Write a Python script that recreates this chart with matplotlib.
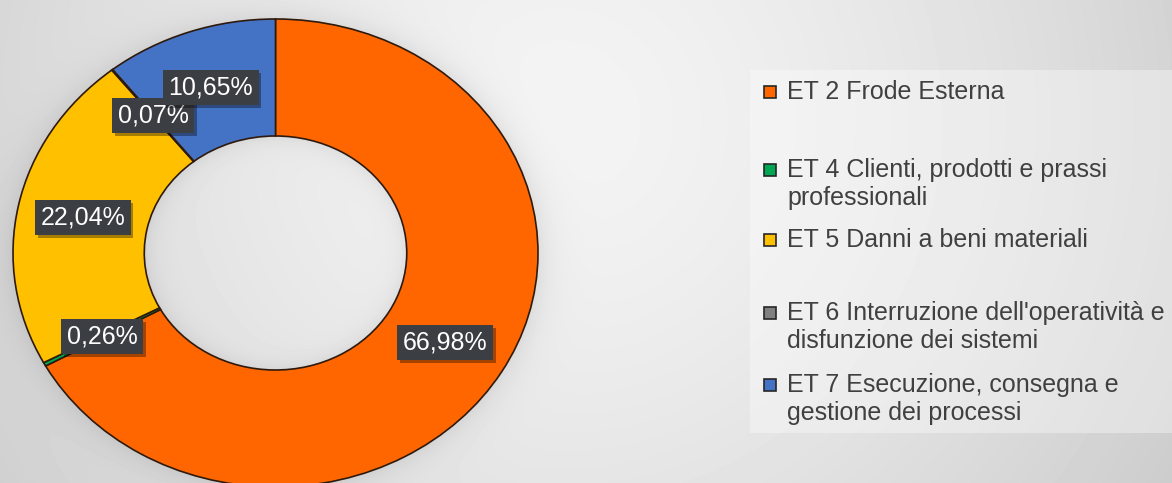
import numpy as np
import matplotlib.pyplot as plt
import matplotlib.patheffects as pe
from matplotlib.patches import Rectangle

plt.rcParams['font.family'] = ['Liberation Sans', 'DejaVu Sans']

# Loss distribution by event type (percent)
categories = [
    "ET 2 Frode Esterna",
    "ET 4 Clienti, prodotti e prassi\nprofessionali",
    "ET 5 Danni a beni materiali",
    "ET 6 Interruzione dell'operatività e\ndisfunzione dei sistemi",
    "ET 7 Esecuzione, consegna e\ngestione dei processi",
]
shares = [66.98, 0.26, 22.04, 0.07, 10.65]
colors = ["#FF6600", "#00A651", "#FFC000", "#808080", "#4472C4"]

W, H = 1172, 483
fig = plt.figure(figsize=(W / 100, H / 100), dpi=100)

# soft grey backdrop with a halo around the ring
yy, xx = np.mgrid[0:H, 0:W].astype(float)
dist = np.hypot(xx - 560, yy - 120)
bg = 0.955 - 0.15 * (dist / 700) ** 1.5
cx, cy, rx, ry = 275.5, 253, 262.5, 234
d = np.hypot((xx - cx) / rx, (yy - cy) / ry)
outer = np.clip((d - 1) * 248, 0, None)
bg -= np.where(d > 1, 0.07 * np.exp(-outer / 14), 0)
inner = np.clip((0.5 - d) * 248, 0, None)
bg -= np.where(d < 0.5, 0.06 * np.exp(-inner / 10), 0)
ax_bg = fig.add_axes([0, 0, 1, 1])
ax_bg.imshow(bg, cmap="gray", vmin=0, vmax=1, extent=(0, W, H, 0), aspect="auto")
ax_bg.set_xlim(0, W)
ax_bg.set_ylim(H, 0)
ax_bg.axis("off")

# legend panel
ax_bg.add_patch(Rectangle((750, 70), W - 750, 363, facecolor="white", alpha=0.35,
                          edgecolor="none"))

# donut
ax = fig.add_axes([13 / W, (H - 487) / H, 525 / W, 468 / H])
wedges, _, autotexts = ax.pie(
    shares, colors=colors, startangle=90, counterclock=False,
    wedgeprops=dict(width=0.5, edgecolor="#2e1a0c", linewidth=1.2),
    autopct=lambda p: f"{p:.2f}".replace(".", ",") + "%",
    pctdistance=0.75,
    textprops=dict(color="white", fontsize=18),
)
ax.set_aspect("auto")
ax.set_xlim(-1, 1)
ax.set_ylim(-1, 1)

for t in autotexts:
    t.set_bbox(dict(boxstyle="square,pad=0.22", facecolor="#3b3e42", edgecolor="none"))
    t.get_bbox_patch().set_path_effects([
        pe.SimplePatchShadow(offset=(2, -2), shadow_rgbFace="black", alpha=0.35),
        pe.Normal(),
    ])

# legend entries
row_y = [92, 170, 240, 313, 385]
for label, col, y in zip(categories, colors, row_y):
    ax_bg.add_patch(Rectangle((764, y - 6), 12, 12, facecolor=col,
                              edgecolor="#262626", linewidth=1.2))
    for i, line in enumerate(label.split("\n")):
        ax_bg.text(787, y + i * 28, line, fontsize=18, color="#404040",
                   va="center", ha="left")

fig.savefig("out.png", dpi=100)
